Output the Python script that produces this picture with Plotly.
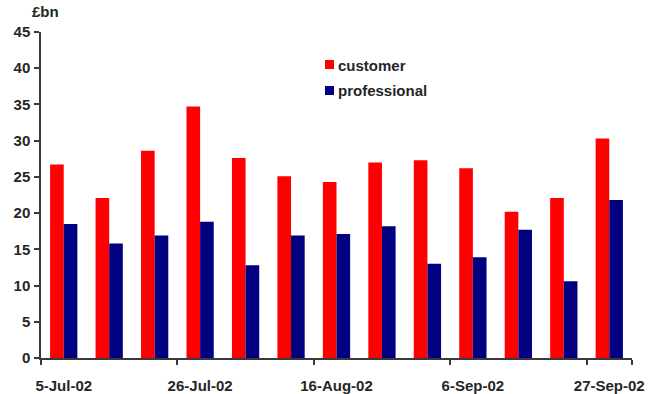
import plotly.graph_objects as go

# Weekly volumes, £bn
weeks = ["5-Jul-02", "12-Jul-02", "19-Jul-02", "26-Jul-02", "2-Aug-02", "9-Aug-02",
         "16-Aug-02", "23-Aug-02", "30-Aug-02", "6-Sep-02", "13-Sep-02", "20-Sep-02",
         "27-Sep-02"]
customer = [26.7, 22.1, 28.6, 34.7, 27.6, 25.1, 24.3, 27.0, 27.3, 26.2, 20.2, 22.1, 30.3]
professional = [18.5, 15.8, 16.9, 18.8, 12.8, 16.9, 17.1, 18.2, 13.0, 13.9, 17.7, 10.6, 21.8]
tick_labels = ["5-Jul-02", "26-Jul-02", "16-Aug-02", "6-Sep-02", "27-Sep-02"]

series = [("customer", customer, "#FF0000"), ("professional", professional, "#000080")]

FONT = dict(family="Liberation Sans, Arial, sans-serif", size=15, color="#262626", weight="bold")
AXIS = "#3a3a3a"

W, H = 659, 394
L, R, T, B = 41, 27, 32, 36

fig = go.Figure()
for name, vals, col in series:
    fig.add_trace(go.Bar(x=weeks, y=vals, name=name, marker=dict(color=col, line=dict(width=0))))

fig.update_layout(
    width=W, height=H,
    margin=dict(l=L, r=R, t=T, b=B, pad=0),
    paper_bgcolor="white", plot_bgcolor="white",
    barmode="group", bargap=0.4, bargroupgap=0,
    showlegend=False,
    font=FONT,
)

fig.update_xaxes(
    type="category", tickmode="array", tickvals=tick_labels, ticktext=tick_labels,
    tickson="boundaries", ticks="outside", ticklen=5, tickcolor=AXIS, tickwidth=1.5,
    showline=True, linecolor=AXIS, linewidth=1.5, showgrid=False,
    tickangle=0, ticklabelstandoff=13, tickfont=FONT, automargin=False,
)
fig.update_yaxes(
    range=[0, 45], dtick=5, ticks="outside", ticklen=5, tickcolor=AXIS, tickwidth=1.5,
    showline=True, linecolor=AXIS, linewidth=1.5, showgrid=False, zeroline=False,
    ticklabelstandoff=1, tickfont=FONT, automargin=False,
)

pw, ph = W - L - R, H - T - B


def px_x(x):
    return (x - L) / pw


def px_y(y):
    return (H - B - y) / ph


# unit label above the value axis
fig.add_annotation(text="£bn", xref="paper", yref="paper", x=px_x(30), y=px_y(12),
                   xanchor="left", yanchor="middle", showarrow=False, font=FONT)

# key: coloured squares with series names
for i, (name, vals, col) in enumerate(series):
    top = 60 + 26 * i
    fig.add_shape(type="rect", xref="paper", yref="paper",
                  x0=px_x(325), x1=px_x(334), y0=px_y(top + 9), y1=px_y(top),
                  fillcolor=col, line=dict(width=0))
    fig.add_annotation(text=name, xref="paper", yref="paper", x=px_x(336), y=px_y(top + 5),
                       xanchor="left", yanchor="middle", showarrow=False, font=FONT)

fig.write_html("out.html")
